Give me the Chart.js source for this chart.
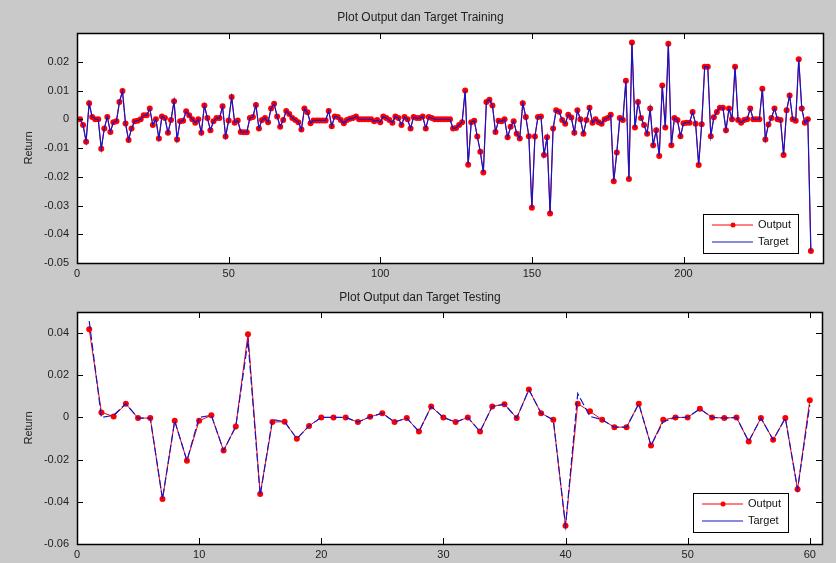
<!DOCTYPE html>
<html>
<head>
<meta charset="utf-8">
<script src="https://cdn.jsdelivr.net/npm/chart.js@4"></script>
<style>
  body { margin: 0; background: #c9c9c9; width: 836px; height: 563px; overflow: hidden; }
  canvas { display: block; }
</style>
</head>
<body>
<canvas id="train" width="836" height="282"></canvas>
<canvas id="test" width="836" height="281"></canvas>
<script>
// data training (target, output jaringan hampir sama)
var targetTrain = [
  0, -0.002, -0.0078, 0.0056, 0.0008, 0, 0, -0.0103, -0.0032, 0.0008,
  -0.0044, -0.001, -0.0007, 0.006, 0.0098, -0.0015, -0.0072, -0.0032, -0.0007, -0.0005,
  0, 0.0014, 0.0014, 0.0037, -0.002, 0, -0.0067, 0.001, 0.0004, -0.0047,
  -0.0003, 0.0063, -0.007, -0.0007, -0.0005, 0.0028, 0.0014, 0, -0.0012, 0,
  -0.0047, 0.0048, 0.0004, -0.0038, -0.0007, 0.0004, 0.0004, 0.0045, -0.006, -0.0004,
  0.0077, -0.0012, -0.0004, -0.0044, -0.0045, -0.0045, 0.0004, 0.0008, 0.005, -0.0032,
  -0.0003, 0.0004, -0.001, 0.0037, 0.0054, 0.001, -0.0026, -0.0003, 0.0029, 0.0018,
  0.0004, -0.0003, -0.001, -0.0036, 0.0037, 0.0024, -0.0014, -0.0004, -0.0004, -0.0004,
  -0.0004, -0.0004, 0.0029, -0.0024, 0.001, 0.0008, -0.0003, -0.0014, -0.0003, 0.0002,
  0.0004, 0.001, 0, 0, 0, 0, 0, -0.0007, -0.0003, -0.001,
  0.001, 0.0004, -0.0003, -0.0012, 0.001, 0.0004, -0.002, 0.0008, 0, -0.0032,
  0.0008, 0.0004, 0.0004, 0.001, -0.0032, 0.0008, 0.0004, 0, 0, 0,
  0, 0, 0, -0.0032, -0.003, -0.002, -0.001, 0.01, -0.0158, -0.001,
  -0.0005, -0.006, -0.0113, -0.0185, 0.006, 0.0068, 0.0048, -0.0044, -0.0005, -0.0007,
  0, -0.0063, -0.0026, -0.0007, -0.005, -0.0067, 0.0056, 0.0008, -0.0059, -0.0308,
  -0.006, 0.0008, 0.001, -0.0124, -0.0063, -0.0328, -0.0032, 0.0031, 0.0026, -0.0003,
  -0.0016, 0.0016, 0.0006, -0.0047, 0.0031, 0, -0.005, -0.0003, 0.004, -0.0012,
  0, -0.001, -0.0016, 0, 0.0004, 0.0016, -0.0216, -0.0116, 0.0004, -0.0003,
  0.0134, -0.0208, 0.0267, -0.0029, 0.006, 0.0004, -0.002, -0.005, 0.0037, -0.009,
  -0.0038, -0.0128, 0.0117, -0.0029, 0.0263, -0.009, 0.0004, -0.0003, -0.0059, -0.0014,
  -0.0012, -0.0012, 0.0025, -0.0016, -0.0159, -0.0017, 0.0183, 0.0183, -0.0059, 0.0007,
  0.0025, 0.004, 0.004, -0.0038, 0.0037, 0, 0.0183, -0.0003, -0.0012, -0.0003,
  0, 0.0037, 0, 0, 0, 0.0106, -0.007, -0.0018, 0.0004, 0.0037,
  0, -0.0003, -0.0124, 0.0031, 0.0083, 0, -0.0005, 0.0209, 0.0037, -0.0012,
  0, -0.0458
];
var outputTrain = targetTrain.slice();

// data testing
var targetTest = [
  0.0457, 0, 0.001, 0.0065, -0.0003, -0.0003, -0.0387, -0.0016, -0.0205, 0,
  0.001, -0.0157, -0.0043, 0.0365, -0.037, -0.001, -0.002, -0.0101, -0.004, 0,
  0, 0, -0.0022, 0.0003, 0.002, -0.0022, -0.0003, -0.0067, 0.0052, 0,
  -0.0022, 0, -0.0067, 0.0052, 0.0063, -0.0003, 0.0132, 0.002, -0.0011, -0.0514,
  0.0113, 0.0005, -0.0011, -0.0046, -0.0046, 0.0065, -0.0133, -0.002, 0, 0,
  0.0041, 0, -0.0003, 0, -0.0114, -0.0003, -0.0106, -0.0003, -0.0341, 0.006
];
var outputTest = [
  0.0418, 0.0024, 0.0005, 0.0065, -0.0003, -0.0003, -0.0387, -0.0016, -0.0205, -0.0016,
  0.001, -0.0157, -0.0043, 0.0394, -0.0363, -0.0022, -0.002, -0.0101, -0.004, 0,
  0, 0, -0.0022, 0.0003, 0.002, -0.0022, -0.0003, -0.0067, 0.0052, 0,
  -0.0022, 0, -0.0067, 0.0052, 0.0063, -0.0003, 0.0132, 0.002, -0.0011, -0.0514,
  0.0065, 0.0029, -0.0011, -0.0046, -0.0046, 0.0065, -0.0133, -0.0011, 0, 0,
  0.0041, 0, -0.0003, 0, -0.0114, -0.0003, -0.0106, -0.0003, -0.0341, 0.0081
];

var xTicksTrain = [0, 50, 100, 150, 200];
var yTicksTrain = [-0.05, -0.04, -0.03, -0.02, -0.01, 0, 0.01, 0.02];
var xTicksTest = [0, 10, 20, 30, 40, 50, 60];
var yTicksTest = [-0.06, -0.04, -0.02, 0, 0.02, 0.04];

var fontFam = "'Liberation Sans', Arial, sans-serif";
var red = '#ff0000';
var blue = '#1414c8';

function toPoints(arr) {
  return arr.map(function(v, i) { return { x: i + 1, y: v }; });
}

function fmtTick(v) {
  if (v === 0) return '0';
  return v.toFixed(2);
}

// kotak putih, frame dan tick ke dalam seperti matlab
var boxPlugin = {
  id: 'box',
  beforeDatasetsDraw: function(chart) {
    var a = chart.chartArea, ctx = chart.ctx;
    ctx.save();
    ctx.fillStyle = '#fff';
    ctx.fillRect(a.left, a.top, a.right - a.left, a.bottom - a.top);
    ctx.restore();
  },
  afterDraw: function(chart, args, opts) {
    var a = chart.chartArea, ctx = chart.ctx;
    var xs = chart.scales.x, ys = chart.scales.y;
    ctx.save();
    ctx.strokeStyle = '#000';
    ctx.lineWidth = 1;
    ctx.beginPath();
    xs.ticks.forEach(function(t) {
      var px = Math.round(xs.getPixelForValue(t.value)) + 0.5;
      ctx.moveTo(px, a.bottom); ctx.lineTo(px, a.bottom - 6);
      ctx.moveTo(px, a.top); ctx.lineTo(px, a.top + 6);
    });
    ys.ticks.forEach(function(t) {
      var py = Math.round(ys.getPixelForValue(t.value)) + 0.5;
      ctx.moveTo(a.left, py); ctx.lineTo(a.left + 6, py);
      ctx.moveTo(a.right, py); ctx.lineTo(a.right - 6, py);
    });
    ctx.stroke();
    ctx.lineWidth = 1.5;
    ctx.strokeRect(Math.round(a.left) + 0.5, Math.round(a.top) + 0.5,
      Math.round(a.right - a.left), Math.round(a.bottom - a.top));

    // legenda
    var w = 95, h = 39;
    var lx = a.right - opts.right - w, ly = a.bottom - opts.bottom - h;
    ctx.fillStyle = '#fff';
    ctx.fillRect(lx, ly, w, h);
    ctx.lineWidth = 1;
    ctx.strokeRect(lx + 0.5, ly + 0.5, w, h);
    ctx.font = '11px ' + fontFam;
    ctx.textBaseline = 'middle';
    chart.data.datasets.forEach(function(ds, i) {
      var yy = ly + 11 + i * 17;
      ctx.strokeStyle = ds.borderColor;
      ctx.setLineDash([]);
      ctx.beginPath();
      ctx.moveTo(lx + 9, yy); ctx.lineTo(lx + 50, yy);
      ctx.stroke();
      if (ds.pointRadius > 0) {
        ctx.fillStyle = ds.pointBackgroundColor;
        ctx.beginPath();
        ctx.arc(lx + 30, yy, 2.5, 0, Math.PI * 2);
        ctx.fill();
      }
      ctx.fillStyle = '#111';
      ctx.fillText(ds.label, lx + 55, yy);
    });
    ctx.restore();
  }
};

function makeChart(id, title, target, output, xmax, ymin, ymax, xTicks, yTicks, pad, legendPos, dash) {
  return new Chart(document.getElementById(id), {
    type: 'line',
    data: {
      datasets: [{
        label: 'Output',
        data: toPoints(output),
        borderColor: red,
        borderWidth: 1,
        pointRadius: 3,
        pointBackgroundColor: red,
        pointBorderWidth: 0,
        order: 1
      }, {
        label: 'Target',
        data: toPoints(target),
        borderColor: blue,
        borderWidth: 1.2,
        borderDash: dash,
        pointRadius: 0,
        order: 0
      }]
    },
    options: {
      responsive: false,
      animation: false,
      layout: { padding: { left: 18, right: pad.right, top: 0, bottom: 0 } },
      plugins: {
        legend: { display: false },
        tooltip: { enabled: false },
        title: {
          display: true,
          text: title,
          color: '#222',
          font: { family: fontFam, size: 12, weight: 'normal' },
          padding: { top: pad.titleTop, bottom: pad.titleBottom }
        },
        box: legendPos
      },
      scales: {
        x: {
          type: 'linear',
          min: 0,
          max: xmax,
          grid: { display: false, drawTicks: false },
          border: { display: false },
          afterBuildTicks: function(scale) {
            scale.ticks = xTicks.map(function(v) { return { value: v }; });
          },
          afterFit: function(scale) { scale.height = 19; },
          ticks: {
            padding: 4,
            color: '#222',
            maxRotation: 0,
            font: { family: fontFam, size: 11 },
            callback: function(v) { return String(v); }
          }
        },
        y: {
          min: ymin,
          max: ymax,
          grid: { display: false, drawTicks: false },
          border: { display: false },
          afterBuildTicks: function(scale) {
            scale.ticks = yTicks.map(function(v) { return { value: v }; });
          },
          afterFit: function(scale) { scale.width = 59; },
          title: {
            display: true,
            text: 'Return',
            color: '#222',
            font: { family: fontFam, size: 11 }
          },
          ticks: {
            padding: 8,
            color: '#222',
            font: { family: fontFam, size: 11 },
            callback: function(v) { return fmtTick(v); }
          }
        }
      }
    },
    plugins: [boxPlugin]
  });
}

makeChart('train', 'Plot Output dan Target Training', targetTrain, outputTrain,
  246, -0.05, 0.03, xTicksTrain, yTicksTrain,
  { right: 13, titleTop: 10, titleBottom: 8.6 }, { right: 25, bottom: 10 }, []);

makeChart('test', 'Plot Output dan Target Testing', targetTest, outputTest,
  61, -0.06, 0.05, xTicksTest, yTicksTest,
  { right: 14, titleTop: 8, titleBottom: 7.6 }, { right: 34, bottom: 12 }, [8, 3]);
</script>
</body>
</html>
